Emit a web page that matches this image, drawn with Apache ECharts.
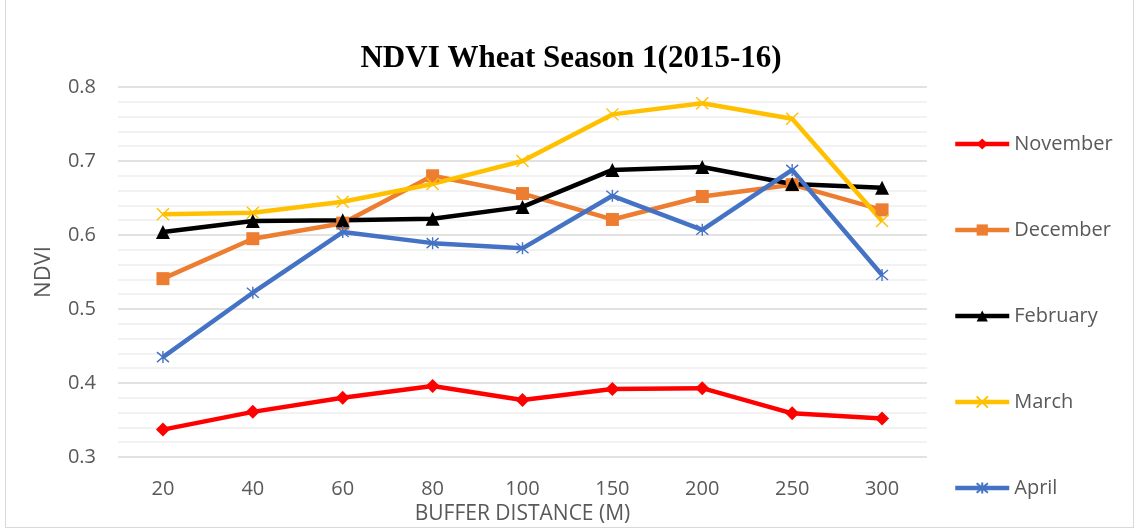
<!DOCTYPE html>
<html>
<head>
<meta charset="utf-8">
<script src="https://cdn.jsdelivr.net/npm/echarts@6/dist/echarts.min.js"></script>
<style>
  html, body { margin: 0; padding: 0; background: #fff; }
  #frame { position: absolute; left: 5px; top: 0; width: 1129px; height: 528px; border: 1.5px solid #d9d9d9; border-top: none; box-sizing: border-box; }
  #chart { width: 1136px; height: 531px; }
</style>
</head>
<body>
<div id="frame"></div>
<div id="chart"></div>
<script>
// buffer distances (m)
const distances = ['20', '40', '60', '80', '100', '150', '200', '250', '300'];

// NDVI per month
const november = [0.337, 0.361, 0.380, 0.396, 0.377, 0.392, 0.393, 0.359, 0.352];
const december = [0.541, 0.595, 0.616, 0.680, 0.656, 0.621, 0.652, 0.668, 0.634];
const february = [0.604, 0.619, 0.620, 0.622, 0.638, 0.688, 0.692, 0.669, 0.664];
const march    = [0.628, 0.630, 0.645, 0.669, 0.700, 0.763, 0.778, 0.757, 0.619];
const april    = [0.435, 0.522, 0.604, 0.589, 0.582, 0.653, 0.607, 0.688, 0.546];

const font = 'Open Sans';
const greyText = '#595959';

const crossPath = 'path://M0,0L10,10M10,0L0,10';
const starPath = 'path://M0,0L10,10M10,0L0,10M5,-1L5,11';

function makeSeries(name, data, color, symbol, size, strokeOnly) {
    return {
        name: name,
        type: 'line',
        data: data,
        symbol: symbol,
        symbolSize: size,
        showAllSymbol: true,
        lineStyle: { color: color, width: 4.5 },
        itemStyle: strokeOnly
            ? { color: 'rgba(0,0,0,0)', borderColor: color, borderWidth: 1.4 }
            : { color: color, borderWidth: 0 },
        emphasis: { disabled: true },
        z: 3
    };
}

const chart = echarts.init(document.getElementById('chart'), null, { renderer: 'canvas' });
chart.setOption({
    animation: false,
    backgroundColor: 'transparent',
    title: {
        text: 'NDVI Wheat Season 1(2015-16)',
        left: 566,
        top: 38,
        textAlign: 'center',
        textStyle: { fontFamily: 'Liberation Serif', fontWeight: 'bold', fontSize: 31, color: '#000' }
    },
    grid: { left: 118, right: 209, top: 87, bottom: 74 },
    legend: {
        orient: 'vertical',
        left: 948,
        top: 129,
        itemWidth: 54,
        itemHeight: 14,
        itemGap: 66,
        lineStyle: { width: 4.5 },
        textStyle: { fontFamily: font, fontSize: 20, color: greyText, padding: [0, 0, 0, 0] },
        data: ['November', 'December', 'February', 'March', 'April']
    },
    xAxis: {
        type: 'category',
        data: distances,
        boundaryGap: true,
        name: 'BUFFER DISTANCE (M)',
        nameLocation: 'middle',
        nameGap: 44,
        nameTextStyle: { fontFamily: font, fontSize: 21, color: greyText },
        axisLine: { show: false },
        axisTick: { show: false },
        axisLabel: { fontFamily: font, fontSize: 20, color: greyText, margin: 22 }
    },
    yAxis: {
        type: 'value',
        min: 0.3,
        max: 0.8,
        interval: 0.1,
        name: 'NDVI',
        nameLocation: 'middle',
        nameGap: 63,
        nameTextStyle: { fontFamily: font, fontSize: 22, color: greyText },
        axisLine: { show: false },
        axisTick: { show: false },
        axisLabel: { fontFamily: font, fontSize: 20, color: greyText, margin: 22, formatter: v => v.toFixed(1) },
        splitLine: { lineStyle: { color: '#d9d9d9', width: 1.5 } },
        minorTick: { show: false, splitNumber: 5 },
        minorSplitLine: { show: true, lineStyle: { color: '#eeeeee', width: 1.5 } }
    },
    series: [
        makeSeries('November', november, '#ff0000', 'diamond', 14, false),
        makeSeries('December', december, '#ed7d31', 'rect', 13, false),
        makeSeries('February', february, '#000000', 'triangle', 14, false),
        makeSeries('March', march, '#ffc000', crossPath, 12, true),
        makeSeries('April', april, '#4472c4', starPath, 12, true)
    ]
});
</script>
</body>
</html>
